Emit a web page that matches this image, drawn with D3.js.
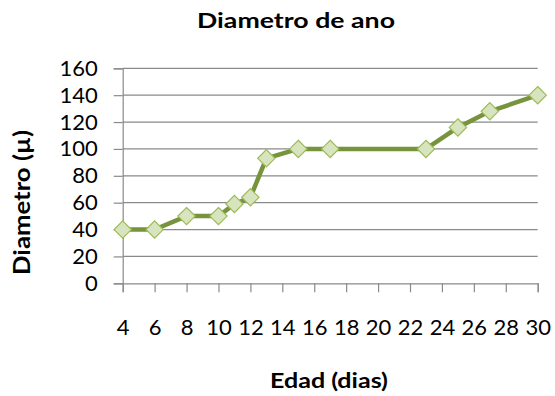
<!DOCTYPE html>
<html>
<head>
<meta charset="utf-8">
<script src="https://cdn.jsdelivr.net/npm/d3@7"></script>
<style>
  html, body { margin: 0; padding: 0; background: #fff; }
  svg text { font-family: Lato, "Open Sans", sans-serif; fill: #000; }
</style>
</head>
<body>
<svg id="chart" width="555" height="396"></svg>
<script>
// Ring diameter by age
const edad = [4, 6, 8, 10, 11, 12, 13, 15, 17, 23, 25, 27, 30];
const diametro = [40, 40, 50, 50, 59, 64, 93, 100, 100, 100, 116, 128, 140];
const xTicks = [4, 6, 8, 10, 12, 14, 16, 18, 20, 22, 24, 26, 28, 30];
const yTicks = [0, 20, 40, 60, 80, 100, 120, 140, 160];

const svg = d3.select("#chart");
const x = d3.scaleLinear().domain([4, 30]).range([122.7, 537.7]);
const y = d3.scaleLinear().domain([0, 160]).range([283.3, 68.3]);

const gridColor = "#8a8a8a";

// horizontal gridlines
svg.append("g").selectAll("line").data(yTicks.filter(d => d > 0)).join("line")
  .attr("x1", x(4)).attr("x2", x(30))
  .attr("y1", d => y(d)).attr("y2", d => y(d))
  .attr("stroke", gridColor).attr("stroke-width", 1.2);

// y axis
const yAxis = svg.append("g").attr("transform", `translate(${x(4)},0)`)
  .call(d3.axisLeft(y).tickValues(yTicks).tickSize(9).tickPadding(16));
yAxis.select(".domain").attr("stroke", gridColor).attr("stroke-width", 1.2);
yAxis.selectAll(".tick line").attr("stroke", gridColor).attr("stroke-width", 1.2);
yAxis.selectAll(".tick text").style("font-size", "22px").attr("fill", "#000");

// x axis
const xAxis = svg.append("g").attr("transform", `translate(0,${y(0)})`)
  .call(d3.axisBottom(x).tickValues(xTicks).tickSize(9).tickPadding(27));
xAxis.select(".domain").attr("stroke", gridColor).attr("stroke-width", 1.2);
xAxis.selectAll(".tick line").attr("stroke", gridColor).attr("stroke-width", 1.2);
xAxis.selectAll(".tick text").style("font-size", "22px").attr("fill", "#000");

// series line
const pts = edad.map((d, i) => [d, diametro[i]]);
svg.append("path")
  .datum(pts)
  .attr("fill", "none")
  .attr("stroke", "#77933C")
  .attr("stroke-width", 4.5)
  .attr("stroke-linejoin", "round")
  .attr("d", d3.line().x(d => x(d[0])).y(d => y(d[1])));

// diamond markers
const diamond = d3.symbol().type(d3.symbolDiamond2).size(190);
svg.append("g").selectAll("path").data(pts).join("path")
  .attr("transform", d => `translate(${x(d[0])},${y(d[1])})`)
  .attr("d", diamond)
  .attr("fill", "#D7E4BD")
  .attr("stroke", "#9BBB59")
  .attr("stroke-width", 1.2);

// titles
svg.append("text")
  .attr("x", 197).attr("y", 28)
  .attr("textLength", 198).attr("lengthAdjust", "spacingAndGlyphs")
  .style("font-size", "21px").style("font-weight", "bold")
  .text("Diametro de ano");

svg.append("text")
  .attr("x", 270).attr("y", 388)
  .attr("textLength", 118).attr("lengthAdjust", "spacingAndGlyphs")
  .style("font-size", "21px").style("font-weight", "bold")
  .text("Edad (dias)");

svg.append("text")
  .attr("transform", "translate(30,275) rotate(-90)")
  .attr("x", 0).attr("y", 0)
  .attr("textLength", 145).attr("lengthAdjust", "spacingAndGlyphs")
  .style("font-size", "23px").style("font-weight", "bold")
  .text("Diametro (µ)");
</script>
</body>
</html>
